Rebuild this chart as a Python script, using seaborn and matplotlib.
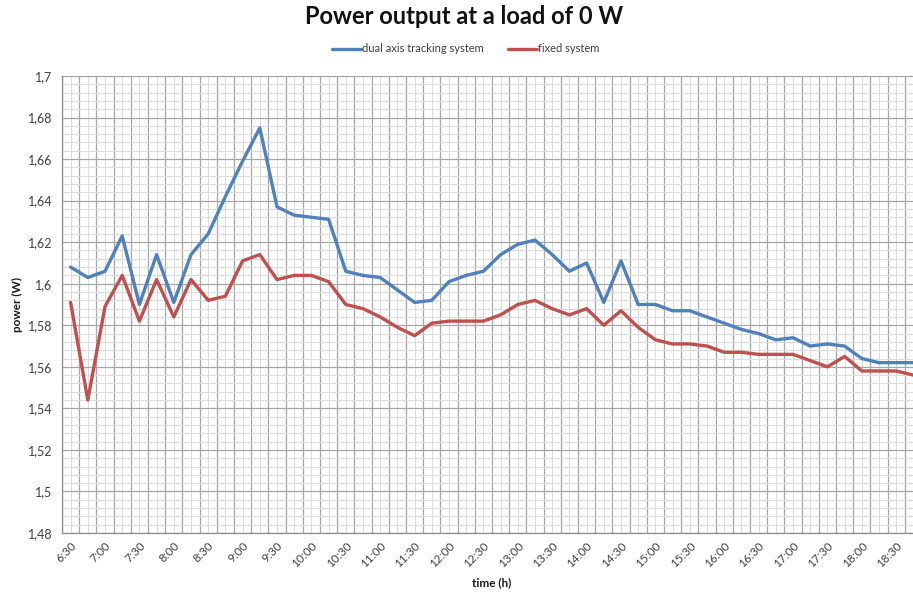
import numpy as np
import pandas as pd
import matplotlib
matplotlib.use("Agg")
import matplotlib.pyplot as plt
import seaborn as sns

# Measurement times (15-minute steps) and power readings in W
times = ["6:30", "6:45", "7:00", "7:15", "7:30", "7:45", "8:00", "8:15", "8:30", "8:45",
         "9:00", "9:15", "9:30", "9:45", "10:00", "10:15", "10:30", "10:45", "11:00", "11:15",
         "11:30", "11:45", "12:00", "12:15", "12:30", "12:45", "13:00", "13:15", "13:30", "13:45",
         "14:00", "14:15", "14:30", "14:45", "15:00", "15:15", "15:30", "15:45", "16:00", "16:15",
         "16:30", "16:45", "17:00", "17:15", "17:30", "17:45", "18:00", "18:15", "18:30", "18:45"]

tracking = [1.608, 1.603, 1.606, 1.623, 1.590, 1.614, 1.591, 1.614, 1.624, 1.642,
            1.659, 1.675, 1.637, 1.633, 1.632, 1.631, 1.606, 1.604, 1.603, 1.597,
            1.591, 1.592, 1.601, 1.604, 1.606, 1.614, 1.619, 1.621, 1.614, 1.606,
            1.610, 1.591, 1.611, 1.590, 1.590, 1.587, 1.587, 1.584, 1.581, 1.578,
            1.576, 1.573, 1.574, 1.570, 1.571, 1.570, 1.564, 1.562, 1.562, 1.562]

fixed = [1.591, 1.544, 1.589, 1.604, 1.582, 1.602, 1.584, 1.602, 1.592, 1.594,
         1.611, 1.614, 1.602, 1.604, 1.604, 1.601, 1.590, 1.588, 1.584, 1.579,
         1.575, 1.581, 1.582, 1.582, 1.582, 1.585, 1.590, 1.592, 1.588, 1.585,
         1.588, 1.580, 1.587, 1.579, 1.573, 1.571, 1.571, 1.570, 1.567, 1.567,
         1.566, 1.566, 1.566, 1.563, 1.560, 1.565, 1.558, 1.558, 1.558, 1.556]

series_names = ["dual axis tracking system", "fixed system"]
series_colors = ["#4F81BD", "#C0504D"]

idx = np.arange(len(times))
df = pd.DataFrame({
    "slot": np.concatenate([idx, idx]),
    "power": tracking + fixed,
    "system": [series_names[0]] * len(times) + [series_names[1]] * len(times),
})

sns.set_style("white")
plt.rcParams["font.family"] = ["Lato", "DejaVu Sans"]

fig = plt.figure(figsize=(9.13, 5.94), dpi=100)
W, H = 913, 594
ax_left, ax_right, ax_top, ax_bottom = 62, 922, 76, 533
ax = fig.add_axes([ax_left / W, 1 - ax_bottom / H,
                   (ax_right - ax_left) / W, (ax_bottom - ax_top) / H])

sns.lineplot(data=df, x="slot", y="power", hue="system",
             palette=dict(zip(series_names, series_colors)),
             linewidth=2.4, ax=ax, legend=False, zorder=3)

n = len(times)
ax.set_xlim(-0.5, n - 0.5)
ax.set_ylim(1.48, 1.70)

# category boundaries: dark grid + small outward ticks
ax.set_xticks(np.arange(n + 1) - 0.5)
ax.set_xticklabels([""] * (n + 1))
# category centres: light grid, every second one labelled
ax.set_xticks(idx, labels=[t if i % 2 == 0 else "" for i, t in enumerate(times)], minor=True)

yticks = np.round(np.arange(1.48, 1.7001, 0.02), 2)
ax.set_yticks(yticks)
ax.set_yticklabels([("%g" % v).replace(".", ",") for v in yticks])
ax.set_yticks(np.arange(1.48, 1.7001, 0.004), minor=True)

ax.tick_params(axis="x", which="major", length=4, width=0.8, color="#8c8c8c", direction="out")
ax.tick_params(axis="x", which="minor", length=0, pad=5, labelsize=8.5,
               labelrotation=45, labelcolor="#404040")
ax.tick_params(axis="y", which="major", length=4, width=0.8, color="#8c8c8c",
               direction="out", labelsize=9, labelcolor="#404040", pad=3)
ax.tick_params(axis="y", which="minor", length=0)
for lab in ax.get_xticklabels(minor=True):
    lab.set_ha("right")
    lab.set_va("top")
    lab.set_rotation_mode("anchor")

ax.grid(True, which="major", color="#a6a6a6", linewidth=0.9, zorder=1)
ax.grid(True, which="minor", color="#dcdcdc", linewidth=0.8, zorder=0)
ax.set_axisbelow(True)

for side in ["top", "right"]:
    ax.spines[side].set_visible(False)
for side in ["left", "bottom"]:
    ax.spines[side].set_color("#8c8c8c")
    ax.spines[side].set_linewidth(0.9)

ax.set_xlabel("time (h)", fontsize=8.5, fontweight="bold", color="#1a1a1a")
ax.set_ylabel("power (W)", fontsize=8.5, fontweight="bold", color="#1a1a1a")
ax.xaxis.label.set_va("center")
ax.yaxis.label.set_va("center")
ax.xaxis.set_label_coords((492 - ax_left) / (ax_right - ax_left),
                          -(583 - ax_bottom) / (ax_bottom - ax_top))
ax.yaxis.set_label_coords(-(62 - 17) / (ax_right - ax_left), 0.5)

fig.text(464 / W, 1 - 17 / H, "Power output at a load of 0 W", ha="center", va="center",
         fontsize=17, fontweight="bold", color="#111111")

handles = [plt.Line2D([], [], color=c, linewidth=2.4) for c in series_colors]
fig.legend(handles, series_names, loc="center", bbox_to_anchor=(466 / W, 1 - 49 / H),
           ncol=2, frameon=False, fontsize=8, handlelength=2.6, handletextpad=0.1,
           columnspacing=2.2, labelcolor="#404040")

fig.savefig("out.png", dpi=100)
